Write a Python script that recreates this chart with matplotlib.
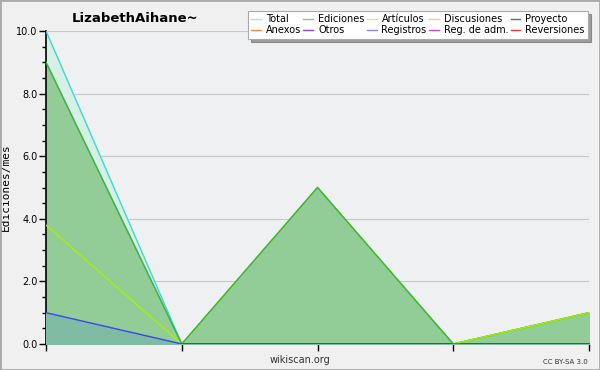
import numpy as np
import matplotlib
matplotlib.use("Agg")
import matplotlib.pyplot as plt
from matplotlib.lines import Line2D
from matplotlib.ticker import MultipleLocator, FormatStrFormatter

x = [0, 1, 2, 3, 4]
total = [10, 0, 5, 0, 1]
ediciones = [9, 0, 5, 0, 1]
articulos = [3.8, 0, 5, 0, 1]
registros = [1, 0, 0, 0, 0]

leg_names = ['Total', 'Anexos', 'Ediciones', 'Otros', 'Artículos', 'Registros',
             'Discusiones', 'Reg. de adm.', 'Proyecto', 'Reversiones']
leg_colors = ['#a8e4e0', '#f08848', '#88c888', '#8848c8', '#d4f088', '#8888f0',
              '#f8d070', '#d048d8', '#686868', '#e83838']

fig = plt.figure(figsize=(6, 3.7), dpi=100, facecolor='#f0f0f0')
ax = fig.add_axes([46/600, 26/370, 543/600, 313/370])
ax.set_facecolor('#eff0f2')

ax.fill_between(x, total, color='#d6f0e8', zorder=1)
ax.fill_between(x, ediciones, color='#92cc96', zorder=2)
ax.fill_between(x, registros, color='#80bca4', zorder=3)
ax.plot(x, total, color='#40d8d0', lw=1, zorder=4)
ax.plot(x, articulos, color='#a8f000', lw=1, zorder=5)
ax.plot(x, ediciones, color='#40b040', lw=1, zorder=6)
ax.plot(x[3:], articulos[3:], color='#a8f000', lw=1, zorder=7)
ax.plot(x, registros, color='#3848f0', lw=1, zorder=8)

ax.set_xlim(0, 4)
ax.set_ylim(0, 10)
ax.yaxis.set_major_locator(MultipleLocator(2))
ax.yaxis.set_minor_locator(MultipleLocator(0.5))
ax.yaxis.set_major_formatter(FormatStrFormatter('%.1f'))
ax.set_xticks(x)
ax.set_xticklabels([])
ax.grid(axis='y', color='#c8c8c8', lw=0.8, zorder=0)
ax.set_axisbelow(True)
for s in ['top', 'right']:
    ax.spines[s].set_visible(False)
ax.spines['left'].set_linewidth(1.2)
ax.spines['bottom'].set_linewidth(1.2)
ax.tick_params(axis='both', which='major', length=5, width=1, labelsize=7, colors='black', pad=1)
ax.tick_params(axis='y', which='minor', length=3, width=1)
ax.set_ylabel('Ediciones/mes', family='DejaVu Sans Mono', fontsize=8, labelpad=4)

fig.text(135/600, 1 - 18/370, 'LizabethAihane~', fontsize=9.5, fontweight='bold', ha='center', va='center')
fig.text(300/600, 1 - 360/370, 'wikiscan.org', fontsize=7, ha='center', va='center', color='#333333')
fig.text(588/600, 1 - 362/370, 'CC BY-SA 3.0', fontsize=5, ha='right', va='center', color='#333333')

handles = [Line2D([], [], color=c, lw=1) for c in leg_colors]
leg = fig.legend(handles, leg_names, ncol=5, loc='upper right', bbox_to_anchor=(588/600, 1 - 11/370),
                 fontsize=7, frameon=True, fancybox=False, shadow=True, handlelength=1.0,
                 handletextpad=0.5, columnspacing=0.25, labelspacing=0.1, borderpad=0.35,
                 borderaxespad=0)
leg.get_frame().set_edgecolor('#aaaaaa')
leg.get_frame().set_linewidth(0.8)

border = plt.Rectangle((0, 0), 1, 1, transform=fig.transFigure, fill=False,
                       edgecolor='#aaaaaa', lw=2)
fig.patches.append(border)

fig.savefig('out.png', dpi=100, facecolor=fig.get_facecolor())
